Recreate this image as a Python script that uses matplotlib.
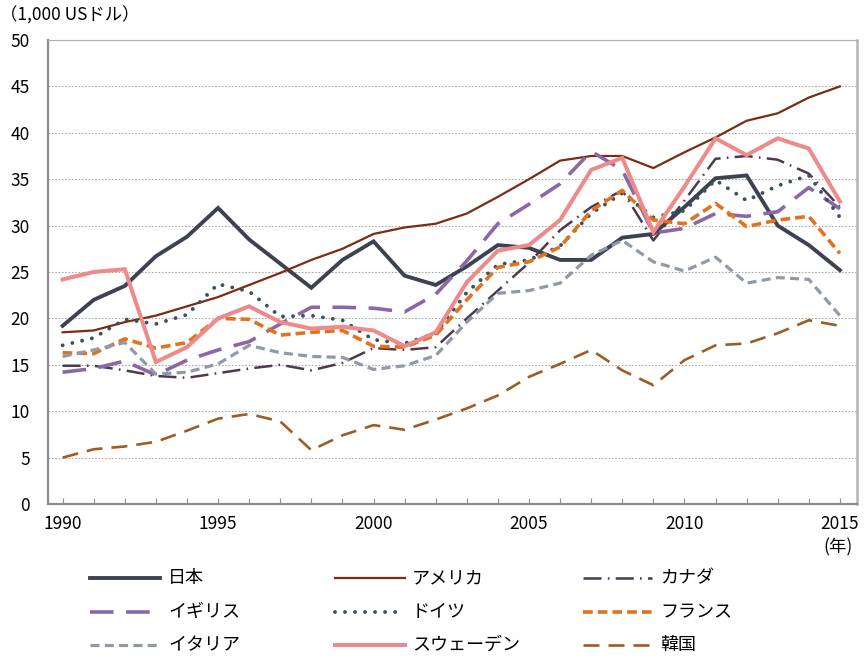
import matplotlib
matplotlib.use("Agg")
import matplotlib.pyplot as plt
from matplotlib.lines import Line2D

plt.rcParams['font.family'] = ['Noto Sans CJK JP', 'DejaVu Sans']
plt.rcParams['lines.scale_dashes'] = False

years = list(range(1990, 2016))

japan = [19.2, 22.0, 23.5, 26.7, 28.8, 31.9, 28.5, 25.9, 23.3, 26.3, 28.3, 24.6, 23.6,
         25.6, 27.9, 27.6, 26.3, 26.3, 28.7, 29.1, 32.0, 35.1, 35.4, 30.0, 27.9, 25.2]
usa = [18.5, 18.7, 19.6, 20.3, 21.3, 22.3, 23.6, 24.9, 26.3, 27.5, 29.1, 29.8, 30.2,
       31.3, 33.1, 35.0, 37.0, 37.5, 37.5, 36.2, 37.9, 39.5, 41.3, 42.1, 43.8, 45.0]
canada = [14.9, 14.9, 14.4, 13.8, 13.6, 14.1, 14.6, 15.0, 14.4, 15.2, 16.8, 16.6, 16.9,
          20.0, 23.0, 26.0, 29.5, 32.0, 33.8, 28.4, 32.7, 37.2, 37.5, 37.1, 35.6, 32.0]
uk = [14.2, 14.6, 15.4, 13.9, 15.5, 16.6, 17.5, 19.4, 21.2, 21.2, 21.1, 20.7, 22.6,
      26.2, 30.2, 32.3, 34.5, 38.0, 36.0, 29.2, 29.7, 31.3, 31.0, 31.5, 34.1, 31.8]
germany = [17.1, 17.9, 19.9, 19.4, 20.4, 23.7, 22.9, 20.2, 20.3, 19.8, 17.7, 17.3, 18.4,
           22.8, 25.8, 26.3, 27.8, 31.3, 33.5, 30.9, 31.6, 34.9, 32.7, 34.3, 35.4, 30.9]
france = [16.3, 16.2, 17.8, 16.8, 17.4, 20.0, 19.9, 18.2, 18.5, 18.7, 17.0, 16.9, 18.2,
          22.0, 25.5, 26.1, 27.7, 31.6, 33.8, 30.6, 30.2, 32.4, 29.9, 30.6, 31.0, 27.0]
italy = [15.9, 16.6, 17.4, 14.0, 14.2, 15.1, 17.1, 16.3, 15.9, 15.8, 14.5, 14.9, 16.0,
         19.6, 22.7, 23.0, 23.8, 26.8, 28.4, 26.1, 25.1, 26.6, 23.8, 24.4, 24.2, 20.3]
sweden = [24.2, 25.0, 25.3, 15.3, 16.9, 20.0, 21.3, 19.6, 18.9, 19.1, 18.7, 17.0, 18.5,
          23.9, 27.3, 27.9, 30.6, 36.0, 37.3, 29.3, 34.2, 39.4, 37.6, 39.4, 38.3, 32.6]
korea = [5.0, 5.9, 6.2, 6.7, 7.9, 9.2, 9.7, 8.9, 5.8, 7.4, 8.5, 8.0, 9.1,
         10.3, 11.7, 13.7, 15.1, 16.6, 14.4, 12.8, 15.5, 17.1, 17.3, 18.4, 19.8, 19.2]

names = ['日本', 'アメリカ', 'カナダ', 'イギリス', 'ドイツ', 'フランス', 'イタリア', 'スウェーデン', '韓国']
series = [japan, usa, canada, uk, germany, france, italy, sweden, korea]

styles = [
    dict(color='#3c4250', lw=2.8, ls='-'),
    dict(color='#7b2c12', lw=1.6, ls='-'),
    dict(color='#4e3a4e', lw=1.8, ls=(0, (13, 4.5, 1.2, 4.5))),
    dict(color='#8a68a6', lw=2.6, ls=(0, (17, 9))),
    dict(color='#35525f', lw=2.8, ls=(0, (0.01, 7.2)), dash_capstyle='round'),
    dict(color='#e0731e', lw=2.6, ls=(0, (7, 3.6))),
    dict(color='#8f99a8', lw=2.3, ls=(0, (6.5, 3.8))),
    dict(color='#ef8a8a', lw=2.9, ls='-'),
    dict(color='#9e5b22', lw=1.9, ls=(0, (11.5, 6.5))),
]

W, H = 865, 659
fig = plt.figure(figsize=(W / 100, H / 100), dpi=100)
ax = fig.add_axes([48 / W, 1 - 504 / H, (857 - 48) / W, (504 - 40) / H])

for vals, st in zip(series, styles):
    ax.plot(years, vals, solid_joinstyle='miter', **st)

ax.set_xlim(1989.53, 2015.55)
ax.set_ylim(0, 50)
ax.set_yticks(range(0, 51, 5))
ax.set_xticks([1990, 1995, 2000, 2005, 2010, 2015])
ax.set_xticks(years, minor=True)
ax.grid(axis='y', linestyle=(0, (1.2, 1.2)), color='#a8a8a8', lw=0.8)
ax.set_axisbelow(True)

for s in ['left', 'bottom']:
    ax.spines[s].set_color('#8c8c8c')
    ax.spines[s].set_linewidth(1.6)
ax.spines['top'].set_color('#b0b0b0')
ax.spines['top'].set_linewidth(0.8)
ax.spines['right'].set_linewidth(1.8)
ax.spines['right'].set_color('#b4b4b4')

ax.tick_params(axis='y', length=0, pad=13, labelsize=12.5)
ax.tick_params(axis='x', which='both', direction='in', length=4, color='#8c8c8c',
               width=0.8, pad=8, labelsize=12.5)

fig.text(838 / W, 1 - 547 / H, '(年)', ha='center', va='center', fontsize=12.5)
fig.text(0 / W, 1 - 16 / H, '（1,000 USドル）', ha='left', va='center', fontsize=12.5)

# legend
cols = [(90, 160, 168), (335, 405, 412), (583, 652, 660)]
rows = [578, 612, 645]
for i, (name, st) in enumerate(zip(names, styles)):
    r, c = divmod(i, 3)
    x0, x1, xt = cols[c]
    y = 1 - rows[r] / H
    fig.add_artist(Line2D([x0 / W, x1 / W], [y, y], transform=fig.transFigure, **st))
    fig.text(xt / W, y, name, ha='left', va='center', fontsize=13)

fig.savefig('out.png', dpi=100)
